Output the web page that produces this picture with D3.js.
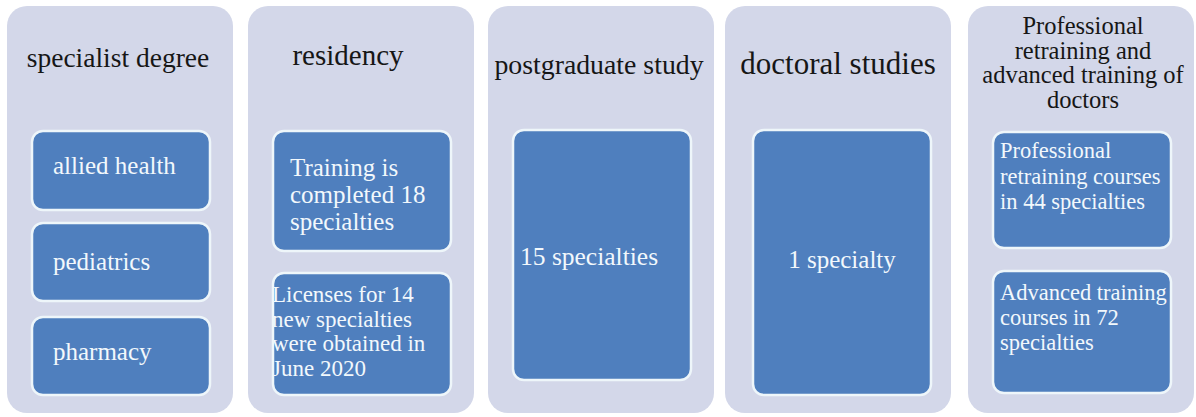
<!DOCTYPE html>
<html lang="en">
<head>
    <meta charset="UTF-8">
    <title>Medical education levels</title>
    <script src="https://d3js.org/d3.v7.min.js"></script>
    <style>
        body {
            margin: 0;
            background: #ffffff;
            font-family: 'Liberation Serif', 'Times New Roman', serif;
        }
        .title {
            fill: #161616;
        }
        .item text {
            fill: #f2f8fc;
        }
    </style>
</head>
<body>
    <div id="chart"></div>

    <script>
        // Data
        const stages = ["specialist degree", "residency", "postgraduate study", "doctoral studies",
                        "Professional retraining and advanced training of doctors"];
        const titleLines = [
            ["specialist degree"],
            ["residency"],
            ["postgraduate study"],
            ["doctoral studies"],
            ["Professional", "retraining and", "advanced training of", "doctors"]
        ];
        const items = [
            [["allied health"], ["pediatrics"], ["pharmacy"]],
            [["Training is", "completed 18", "specialties"],
             ["Licenses for 14", "new specialties", "were obtained in", "June 2020"]],
            [["15 specialties"]],
            [["1 specialty"]],
            [["Professional", "retraining courses", "in 44 specialties"],
             ["Advanced training", "courses in 72", "specialties"]]
        ];

        // Layout (pixels)
        const W = 1196, H = 417;
        const panelTop = 6, panelBottom = 413, panelW = 226;
        const panelX = [7, 248, 488, 725, 968];
        const titleSize = [27.5, 29, 27.8, 31, 24.5];
        const titleY = [67, 65, 74, 74, 34];
        const titleDx = [-2, -13, -2, 0, 2];
        const titleLH = 24.5;
        // inner boxes: [y0, y1] per item
        const boxY = [
            [[131, 210], [223, 301], [317, 395]],
            [[131, 251], [273, 395]],
            [[130, 380]],
            [[130, 395]],
            [[132, 248], [271, 393]]
        ];
        const boxInset = [25, 25, 25, 28, 25];
        const boxW = 178;
        // text per item: x offset inside box (null = centred), first baseline, font size, line step
        const textX = [[21, 21, 21], [17, -1], [7], [null], [7, 7]];
        const textBase = [[174, 270, 360], [176, 302], [265], [268], [158, 300]];
        const itemSize = [[25, 25, 25], [25, 23], [25.5], [25], [22.5, 22.5]];
        const itemLH = [[0, 0, 0], [27, 24.5], [0], [0], [25.5, 25]];

        const svg = d3.select("#chart").append("svg")
            .attr("width", W)
            .attr("height", H);

        const defs = svg.append("defs");

        const panels = svg.selectAll("g.panel")
            .data(stages)
            .join("g")
            .attr("class", "panel")
            .attr("transform", (d, i) => `translate(${panelX[i]},0)`);

        panels.append("rect")
            .attr("y", panelTop)
            .attr("width", panelW)
            .attr("height", panelBottom - panelTop)
            .attr("rx", 20)
            .attr("fill", "#d3d7e9");

        panels.each(function (d, i) {
            const g = d3.select(this);
            const t = g.append("text")
                .attr("class", "title")
                .attr("text-anchor", "middle")
                .attr("font-size", titleSize[i]);
            titleLines[i].forEach((line, k) => {
                t.append("tspan")
                    .attr("x", panelW / 2 + titleDx[i])
                    .attr("y", titleY[i] + k * titleLH)
                    .text(line);
            });

            items[i].forEach((lines, j) => {
                const [y0, y1] = boxY[i][j];
                const bx = boxInset[i];
                const ig = g.append("g").attr("class", "item");
                ig.append("rect")
                    .attr("x", bx)
                    .attr("y", y0)
                    .attr("width", boxW)
                    .attr("height", y1 - y0)
                    .attr("rx", 11)
                    .attr("fill", "#4f7fbe")
                    .attr("stroke", "#eef6fa")
                    .attr("stroke-width", 2.5);

                const clipId = `clip-${i}-${j}`;
                defs.append("clipPath").attr("id", clipId)
                    .append("rect")
                    .attr("x", bx + 1)
                    .attr("y", y0)
                    .attr("width", boxW - 2)
                    .attr("height", y1 - y0);

                const centred = textX[i][j] === null;
                const tx = centred ? bx + boxW / 2 : bx + textX[i][j];
                const it = ig.append("text")
                    .attr("font-size", itemSize[i][j])
                    .attr("text-anchor", centred ? "middle" : "start")
                    .attr("clip-path", `url(#${clipId})`);
                lines.forEach((line, k) => {
                    it.append("tspan")
                        .attr("x", tx)
                        .attr("y", textBase[i][j] + k * itemLH[i][j])
                        .text(line);
                });
            });
        });
    </script>
</body>
</html>
